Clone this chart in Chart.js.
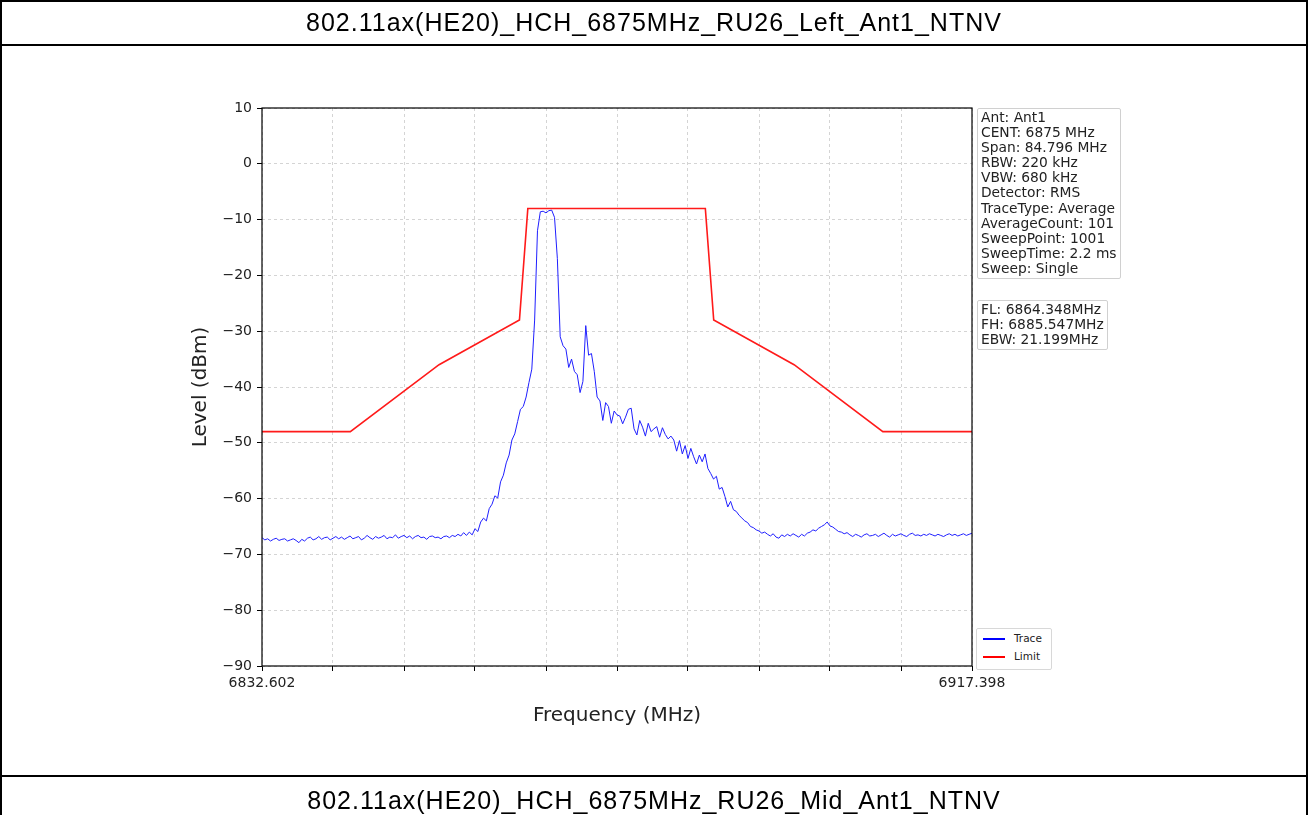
<!DOCTYPE html>
<html>
<head>
<meta charset="utf-8">
<script src="https://cdn.jsdelivr.net/npm/chart.js@4/dist/chart.umd.min.js"></script>
<style>
  html, body { margin: 0; padding: 0; background: #fff; }
  #page { position: relative; width: 1308px; height: 815px; overflow: hidden; background: #fff; }
  .hline { position: absolute; left: 0; width: 1308px; height: 2px; background: #000; }
  .vline { position: absolute; top: 0; width: 2px; height: 815px; background: #000; }
  .title { position: absolute; left: 0; width: 1308px; text-align: center;
           font-family: "Liberation Sans", Arial, sans-serif; font-size: 25px; letter-spacing: 1px; color: #000; }
  #cv { position: absolute; left: 0; top: 0; }
  .box { position: absolute; border: 1px solid #d0d0d0; border-radius: 2px; background: rgba(255,255,255,0.8);
         font-family: "DejaVu Sans", sans-serif; font-size: 13.8px; line-height: 15.1px; color: #222; padding: 1px 3px 2px 3px; white-space: pre; }
  .leg { position: absolute; border: 1px solid #d8d8d8; border-radius: 2px; background: #fff;
         font-family: "DejaVu Sans", sans-serif; font-size: 10.5px; color: #222; }
  .leg div { position: relative; height: 18px; line-height: 18px; padding-left: 37px; }
  .leg span { position: absolute; left: 6px; top: 9px; width: 22px; height: 2px; }
</style>
</head>
<body>
<div id="page">
  <canvas id="cv" width="1308" height="815"></canvas>
  <div class="hline" style="top:0"></div>
  <div class="hline" style="top:44px"></div>
  <div class="hline" style="top:775px"></div>
  <div class="vline" style="left:0"></div>
  <div class="vline" style="left:1306px"></div>
  <div class="title" style="top:8px">802.11ax(HE20)_HCH_6875MHz_RU26_Left_Ant1_NTNV</div>
  <div class="title" style="top:786px">802.11ax(HE20)_HCH_6875MHz_RU26_Mid_Ant1_NTNV</div>
  <div id="info1" class="box" style="left:977px; top:108px;"></div>
  <div id="info2" class="box" style="left:977px; top:300px;"></div>
  <div id="legend" class="leg" style="left:976px; top:628px; width:74px; height:40px;"></div>
</div>
<script>
// ---- data ----
const chartTitle = "802.11ax(HE20)_HCH_6875MHz_RU26_Left_Ant1_NTNV";
const freqStart = 6832.602;
const freqStop = 6917.398;
const xTickLabels = ["6832.602", "", "", "", "", "", "", "", "", "", "6917.398"];
const yTickValues = [10, 0, -10, -20, -30, -40, -50, -60, -70, -80, -90];
const seriesNames = ["Trace", "Limit"];
const infoLines = ["Ant: Ant1", "CENT: 6875 MHz", "Span: 84.796 MHz", "RBW: 220 kHz", "VBW: 680 kHz",
  "Detector: RMS", "TraceType: Average", "AverageCount: 101", "SweepPoint: 1001", "SweepTime: 2.2 ms", "Sweep: Single"];
const bwLines = ["FL: 6864.348MHz", "FH: 6885.547MHz", "EBW: 21.199MHz"];

// limit mask (MHz, dBm)
const limitFreqs = [6832.602, 6843.15, 6853.75, 6863.35, 6864.35, 6885.55, 6886.55, 6896.15, 6906.75, 6917.398];
const limitLevels = [-48, -48, -36, -28, -8, -8, -28, -36, -48, -48];

// trace levels (dBm), evenly spaced over the span (every 4th sweep point)
const traceLevels = [
-67.0,-67.4,-67.2,-67.6,-67.3,-67.1,-67.5,-67.3,-67.2,-67.6,-67.4,-67.2,-67.5,-67.9,-67.3,-67.6,-67.1,-66.9,-67.4,-67.2,
-66.8,-67.3,-67.0,-66.9,-67.4,-67.1,-66.8,-67.2,-66.9,-67.3,-67.0,-66.7,-67.2,-67.0,-66.8,-67.4,-67.1,-66.6,-67.0,-67.3,
-66.8,-67.1,-66.9,-66.6,-67.2,-66.9,-67.0,-66.5,-67.1,-66.8,-66.6,-67.0,-66.7,-67.2,-66.8,-66.6,-67.0,-66.9,-67.3,-66.8,
-66.7,-67.0,-66.9,-67.2,-66.8,-66.7,-67.0,-66.6,-66.8,-66.4,-66.7,-66.1,-66.6,
-66.0,-66.5,-65.4,-65.9,-64.2,-63.5,-64.0,-61.8,-61.0,-59.5,-59.9,-57.0,-55.8,-53.6,-52.2,-49.5,-48.4,-46.2,-44.0,-43.5,
-41.8,-39.2,-36.8,-28.0,-12.0,-8.6,-8.5,-8.8,-8.4,-8.3,-9.6,-17.0,-31.0,-32.6,-33.2,-36.5,-35.0,-37.2,-37.8,-41.0,
-39.0,-29.0,-34.3,-34.0,-37.2,-41.8,-42.5,-46.0,-42.8,-43.5,-46.5,-44.3,-45.0,-45.2,-46.6,-45.4,-44.0,-43.8,-47.5,-48.6,
-46.0,-47.2,-48.8,-46.5,-48.0,-47.5,-47.1,-49.0,-47.3,-48.5,-49.3,-48.8,-49.5,-51.5,-49.6,-52.0,-50.5,-52.8,-51.0,-52.5,
-53.8,-52.2,-53.4,-52.0,-54.6,-55.5,-56.5,-56.0,-58.3,-58.0,-59.6,-61.5,-60.5,-62.0,-62.3,-63.0,-63.5,-64.0,-64.3,-65.0,
-65.2,-65.6,-65.8,-66.2,-66.0,-66.4,-66.7,-66.3,-66.9,-67.1,-66.5,-66.8,-66.4,-66.7,-66.3,-66.6,-66.9,-66.4,-66.7,-66.2,
-66.0,-65.6,-65.8,-65.3,-65.0,-64.7,-64.2,-64.9,-65.1,-65.5,-65.9,-66.0,-66.3,-66.1,
-66.5,-66.8,-66.4,-66.6,-66.9,-66.5,-66.3,-66.7,-66.6,-66.4,-66.8,-66.5,-66.2,-66.6,-66.9,-66.4,-66.7,-66.5,-66.3,-66.6,
-66.8,-66.4,-66.2,-66.6,-66.5,-66.7,-66.4,-66.6,-66.3,-66.5,-66.7,-66.4,-66.6,-66.8,-66.5,-66.3,-66.6,-66.4,-66.7,-66.5,
-66.3,-66.6,-66.4,-66.2
];

// ---- build ----
document.getElementById('info1').textContent = infoLines.join('\n');
document.getElementById('info2').textContent = bwLines.join('\n');
const legColors = ['#0000ff', '#ff0000'];
document.getElementById('legend').innerHTML = seriesNames.map((n, i) =>
  '<div><span style="background:' + legColors[i] + '"></span>' + n + '</div>').join('');

const span = freqStop - freqStart;
const tracePts = traceLevels.map((v, i) => ({ x: freqStart + i * span / (traceLevels.length - 1), y: v }));
const limitPts = limitFreqs.map((f, i) => ({ x: f, y: limitLevels[i] }));
const xTickValues = xTickLabels.map((_, i) => freqStart + i * span / (xTickLabels.length - 1));

const framePlugin = {
  id: 'frame',
  afterDraw(chart) {
    const a = chart.chartArea, ctx = chart.ctx;
    ctx.save();
    ctx.strokeStyle = '#000';
    ctx.lineWidth = 1.2;
    ctx.strokeRect(a.left, a.top, a.right - a.left, a.bottom - a.top);
    ctx.restore();
  }
};

new Chart(document.getElementById('cv'), {
  type: 'line',
  data: {
    datasets: [
      { label: seriesNames[1], data: limitPts, borderColor: '#ff1a1a', borderWidth: 1.6, pointRadius: 0, order: 0, tension: 0 },
      { label: seriesNames[0], data: tracePts, borderColor: '#1f1fff', borderWidth: 1, pointRadius: 0, order: 1, tension: 0 }
    ]
  },
  options: {
    responsive: false,
    animation: false,
    devicePixelRatio: 1,
    layout: { padding: { left: 185, right: 336, top: 108, bottom: 83 } },
    plugins: { legend: { display: false }, tooltip: { enabled: false } },
    scales: {
      x: {
        type: 'linear', min: freqStart, max: freqStop,
        afterBuildTicks: s => { s.ticks = xTickValues.map(v => ({ value: v })); },
        afterFit: s => { s.height = 66; },
        ticks: {
          autoSkip: false, maxRotation: 0, padding: 4, color: '#222',
          font: { family: 'DejaVu Sans', size: 14 },
          callback: (v, i) => xTickLabels[i]
        },
        grid: { color: 'rgba(170,170,170,0.5)', lineWidth: 1, tickColor: '#000', tickLength: 5, drawTicks: true },
        border: { display: false, dash: [3, 3] },
        title: { display: true, text: 'Frequency (MHz)', color: '#222', font: { family: 'DejaVu Sans', size: 20 }, padding: { top: 6, bottom: 4 } }
      },
      y: {
        type: 'linear', min: -90, max: 10,
        afterBuildTicks: s => { s.ticks = yTickValues.map(v => ({ value: v })); },
        afterFit: s => { s.width = 77; },
        ticks: {
          padding: 5, color: '#222',
          font: { family: 'DejaVu Sans', size: 14 },
          callback: v => (v < 0 ? '\u2212' + Math.abs(v) : String(v))
        },
        grid: { color: 'rgba(170,170,170,0.5)', lineWidth: 1, tickColor: '#000', tickLength: 5, drawTicks: true },
        border: { display: false, dash: [3, 3] },
        title: { display: true, text: 'Level (dBm)', color: '#222', font: { family: 'DejaVu Sans', size: 20 }, padding: { top: 4, bottom: 4 } }
      }
    }
  },
  plugins: [framePlugin]
});
</script>
</body>
</html>
